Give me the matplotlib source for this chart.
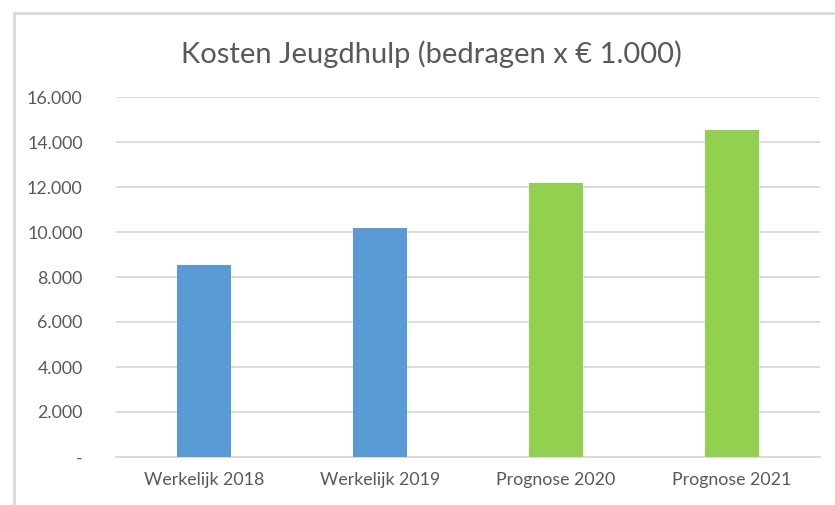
import matplotlib
matplotlib.use('Agg')
import matplotlib.pyplot as plt
from matplotlib.lines import Line2D
from matplotlib.ticker import FuncFormatter

# data (bedragen x 1.000)
categories = ['Werkelijk 2018', 'Werkelijk 2019', 'Prognose 2020', 'Prognose 2021']
kosten = [8530, 10180, 12190, 14530]
bar_colors = ['#5b9bd5', '#5b9bd5', '#92d050', '#92d050']
yticks = [0, 2000, 4000, 6000, 8000, 10000, 12000, 14000, 16000]

plt.rcParams['font.family'] = ['Lato', 'DejaVu Sans']

fig = plt.figure(figsize=(8.35, 5.05), dpi=100)
ax = fig.add_axes([116 / 835, 48 / 505, 704 / 835, 360 / 505])

ax.bar(range(len(categories)), kosten, width=0.31, color=bar_colors, zorder=3)

ax.set_xlim(-0.5, len(categories) - 0.5)
ax.set_ylim(0, 16000)
ax.set_yticks(yticks)

# Dutch number format, zero shown as "-"
def fmt(v, pos):
    if v == 0:
        return '-'
    return '{:,.0f}'.format(v).replace(',', '.')

ax.yaxis.set_major_formatter(FuncFormatter(fmt))
ax.set_xticks(range(len(categories)))
ax.set_xticklabels(categories)

ax.grid(axis='y', color='#d9d9d9', linewidth=1.3, zorder=0)
for s in ['top', 'right', 'left']:
    ax.spines[s].set_visible(False)
ax.spines['bottom'].set_color('#d9d9d9')
ax.spines['bottom'].set_linewidth(1.3)
ax.tick_params(axis='both', length=0, colors='#595959', labelsize=12.8)
ax.tick_params(axis='y', pad=24)
ax.tick_params(axis='x', pad=11)

fig.text(431 / 835, 1 - 54 / 505, 'Kosten Jeugdhulp (bedragen x € 1.000)',
         ha='center', va='center', fontsize=21, color='#595959')

# chart area border (cut off on right and bottom)
fig.add_artist(Line2D([14 / 835, 1], [1 - 12.5 / 505, 1 - 12.5 / 505], color='#d9d9d9', linewidth=2))
fig.add_artist(Line2D([14 / 835, 14 / 835], [0, 1 - 12.5 / 505], color='#d9d9d9', linewidth=2))

plt.savefig('out.png', dpi=100)
